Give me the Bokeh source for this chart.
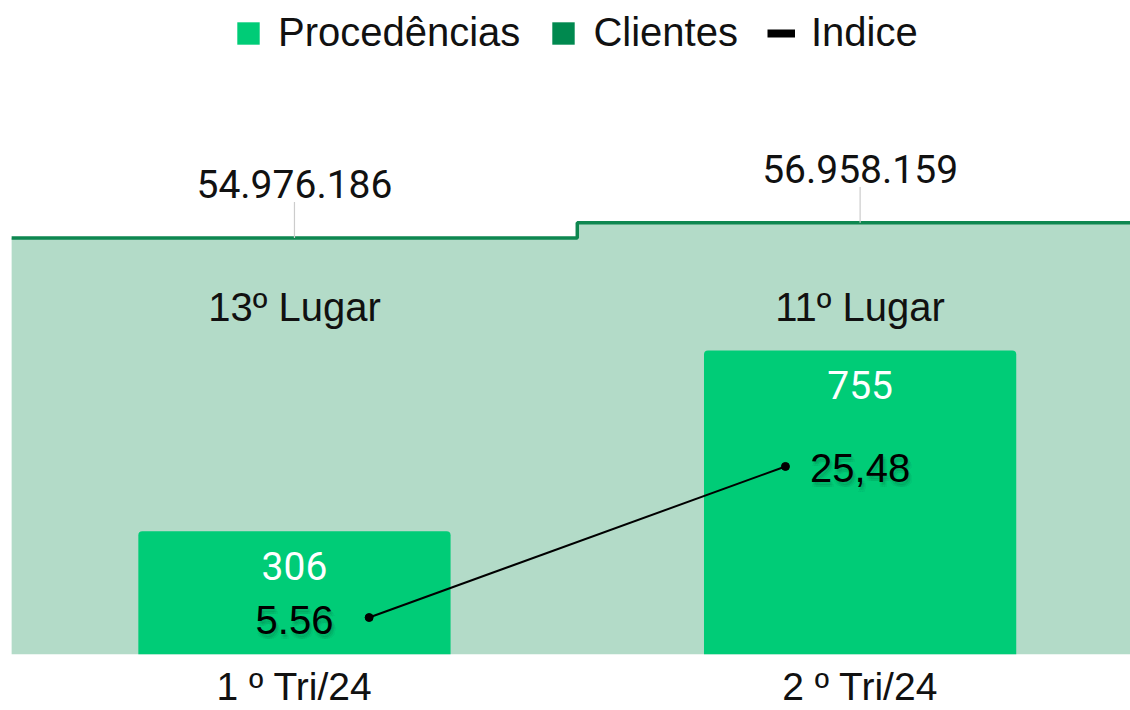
import numpy as np
from bokeh.plotting import figure
from bokeh.models import Range1d, FixedTicker, Legend, LegendItem
from bokeh.core.properties import value
from bokeh.embed import file_html
from bokeh.resources import INLINE

# ---------------- data ----------------
categories = ["1 º Tri/24", "2 º Tri/24"]
procedencias = [306, 755]
clientes = [54976186, 56958159]
indice = [5.56, 25.48]
indice_labels = ["5.56", "25,48"]
ranking = ["13º Lugar", "11º Lugar"]

# ---------------- styles ----------------
BAR = "#00cc77"
AREA_FILL = "#b3dbc8"
AREA_LINE = "#0e8750"
CLIENTES_KEY = "#00894f"
TXT = "#111111"

W, H = 1130, 710
FRAME_H = 655
X_RANGE = (-0.502, 1.478)
AREA_TOP = 86.30e6
BAR_TOP = 1624.1
IDX_RANGE = (0.685, 86.92)
BAR_W = 0.552
IDX_SHIFT = 0.132
RANK_Y = 45.85e6
LEADER_PX = 36
LEGEND_LEFT = 224
LEGEND_TOP = 10
LEGEND_H = 46

n = len(categories)
cat_x = np.arange(n)

p = figure(width=W, height=H, output_backend="svg", toolbar_location=None,
           x_range=Range1d(*X_RANGE), y_range=Range1d(0, AREA_TOP),
           y_axis_location=None,
           min_border_left=10, min_border_right=0, min_border_top=0, min_border_bottom=0)
p.extra_y_ranges = {"bars": Range1d(0, BAR_TOP), "idx": Range1d(*IDX_RANGE)}
p.xgrid.visible = False
p.ygrid.visible = False
p.outline_line_color = None
p.background_fill_color = "white"
p.border_fill_color = "white"

# Clientes area (step per category band)
edges = np.arange(n + 1) - 0.5
steps_y = list(clientes) + [clientes[-1]]
p.varea_step(x=edges, y1=0, y2=steps_y, step_mode="after", fill_color=AREA_FILL)
p.step(x=edges, y=steps_y, mode="after", line_color=AREA_LINE, line_width=3.5)

# leaders + clientes labels
leader_len = LEADER_PX * AREA_TOP / FRAME_H
p.segment(x0=cat_x, y0=clientes, x1=cat_x, y1=np.array(clientes) + leader_len,
          line_color="#cccccc", line_width=1.2)
clientes_labels = [f"{v:,}".replace(",", ".") for v in clientes]
p.text(x=cat_x, y=clientes, text=clientes_labels, y_offset=-54,
       text_align="center", text_baseline="middle", text_color=TXT,
       text_font=value("Roboto"), text_font_size="39px")

# ranking labels
p.text(x=cat_x, y=[RANK_Y] * n, text=ranking, text_align="center", text_baseline="middle",
       text_color=TXT, text_font=value("Liberation Sans"), text_font_size="40px")

# Procedencias bars
p.vbar(x=cat_x, top=procedencias, bottom=0, width=BAR_W, fill_color=BAR, line_color=None,
       y_range_name="bars", border_radius=(4, 4, 0, 0))
p.text(x=cat_x, y=procedencias, text=[str(v) for v in procedencias], y_range_name="bars",
       y_offset=35, text_align="center", text_baseline="middle", text_color="white",
       text_font=value("Roboto"), text_font_size="39px")

# Indice line
idx_x = cat_x + np.array([IDX_SHIFT, -IDX_SHIFT])
p.line(x=idx_x, y=indice, line_color="black", line_width=2, y_range_name="idx")
p.scatter(x=idx_x, y=indice, size=8, color="black", y_range_name="idx")
for dx, dy in [(1, 3), (3, 3), (2, 5), (0, 5), (4, 5), (2, 2)]:
    p.text(x=cat_x, y=indice, text=indice_labels, y_range_name="idx",
           x_offset=dx, y_offset=2 + dy, text_align="center", text_baseline="middle",
           text_color="black", text_alpha=0.05,
           text_font=value("Liberation Sans"), text_font_size="40px")
p.text(x=cat_x, y=indice, text=indice_labels, y_range_name="idx", y_offset=2,
       text_align="center", text_baseline="middle", text_color="black",
       text_font=value("Liberation Sans"), text_font_size="40px")

# x axis with category labels
p.xaxis.ticker = FixedTicker(ticks=[int(i) for i in cat_x])
p.xaxis.major_label_overrides = {int(i): c for i, c in zip(cat_x, categories)}
p.xaxis.axis_line_color = None
p.xaxis.major_tick_line_color = None
p.xaxis.minor_tick_line_color = None
p.xaxis.major_tick_out = 0
p.xaxis.major_tick_in = 0
p.xaxis.major_label_standoff = 10
p.xaxis.major_label_text_font = "Liberation Sans"
p.xaxis.major_label_text_font_size = "39px"
p.xaxis.major_label_text_color = TXT

# legend (key renderers, drawn outside the visible range)
k_proc = p.vbar(x=[-9], top=[0], width=0.5, fill_color=BAR, line_color=None)
k_cli = p.vbar(x=[-9], top=[0], width=0.5, fill_color=CLIENTES_KEY, line_color=None)
k_idx = p.line(x=[-9, -8], y=[0, 0], line_color="black", line_width=8)
legend = Legend(items=[LegendItem(label="Procedências", renderers=[k_proc]),
                       LegendItem(label="Clientes", renderers=[k_cli]),
                       LegendItem(label="Indice", renderers=[k_idx])],
                orientation="horizontal",
                location=(LEGEND_LEFT, FRAME_H - LEGEND_TOP - LEGEND_H),
                glyph_width=28, glyph_height=28, label_standoff=16, spacing=29,
                padding=0, margin=0, border_line_color=None, background_fill_alpha=0,
                label_text_font="Liberation Sans", label_text_font_size="40px",
                label_text_color=TXT)
p.add_layout(legend, "center")

open("out.html", "w").write(file_html(p, INLINE))
